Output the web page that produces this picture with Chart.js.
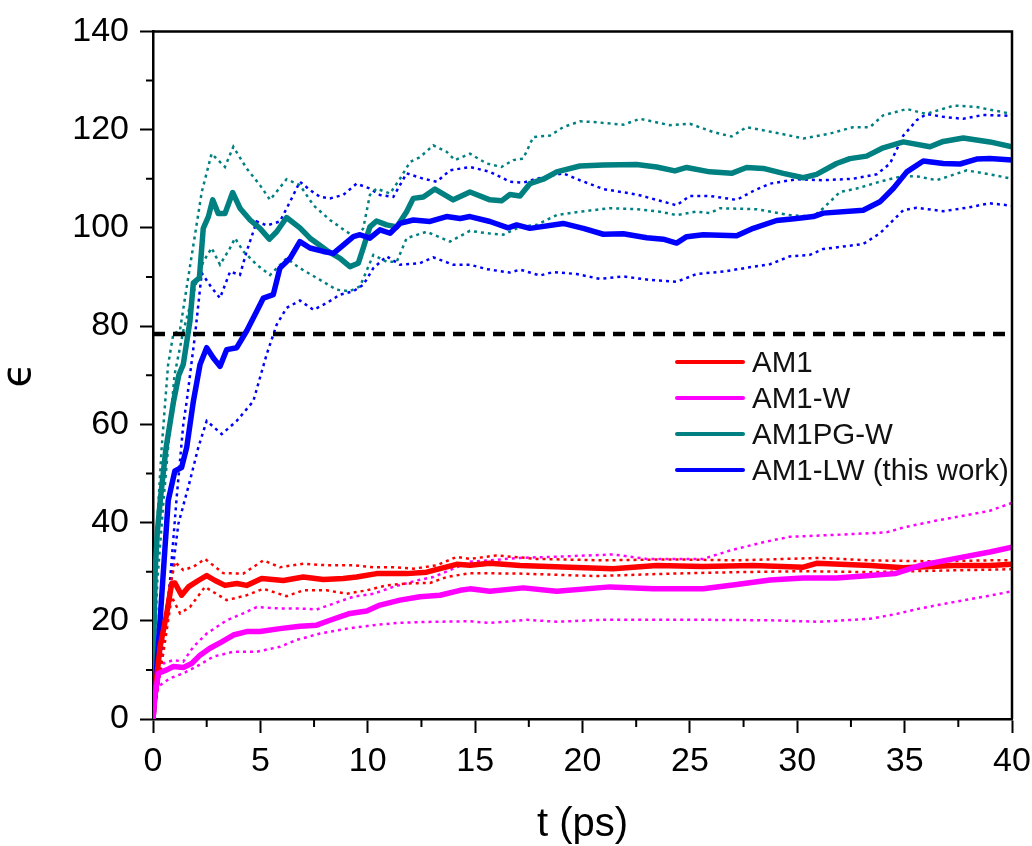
<!DOCTYPE html>
<html>
<head>
<meta charset="utf-8">
<script src="https://cdn.jsdelivr.net/npm/chart.js@4.4.1/dist/chart.umd.min.js"></script>
<style>
  html, body { margin: 0; padding: 0; background: #fff; }
  #wrap { position: relative; width: 1032px; height: 846px; }
  #legend { position: absolute; left: 675px; top: 344px; font-family: 'Liberation Sans', Arial, sans-serif; font-size: 29.5px; color: #111; }
  #legend .row { display: flex; align-items: center; height: 36px; }
  #legend .swatch { width: 70px; height: 4px; border-radius: 2px; margin-right: 7px; }
</style>
</head>
<body>
<div id="wrap">
  <canvas id="epsChart"></canvas>
  <div id="legend"></div>
</div>
<script>
// Axis ticks
const xMinorTicks = [2.5, 7.5, 12.5, 17.5, 22.5, 27.5, 32.5, 37.5];
const yMinorTicks = [10, 30, 50, 70, 90, 110, 130];

// Legend entries (main curves)
const seriesNames = ['AM1', 'AM1-W', 'AM1PG-W', 'AM1-LW (this work)'];
const seriesColors = ['#ff0000', '#ff00ff', '#008080', '#0000ff'];

// Experimental water permittivity
const waterT = [0, 40];
const waterEps = [78.4, 78.4];

// AM1
const am1T = [0, 0.09, 0.33, 0.64, 0.87, 1.02, 1.33, 1.65, 2.11, 2.5, 2.89, 3.35, 3.9, 4.36, 5.06, 6.07, 7.0, 7.93, 8.86, 9.48, 10.41, 11.81, 12.74, 13.36, 14.14, 14.76, 15.69, 17.09, 19.4, 21.43, 23.45, 25.6, 27.95, 30.28, 30.9, 33.4, 34.94, 37.27, 38.97, 40];
const am1Eps = [0, 5.2, 14.7, 21.5, 27.6, 27.7, 25.2, 26.9, 28.2, 29.2, 28.2, 27.2, 27.6, 27.2, 28.6, 28.2, 28.9, 28.4, 28.6, 28.9, 29.6, 29.6, 29.9, 30.6, 31.5, 31.3, 31.7, 31.25, 30.9, 30.6, 31.25, 31.05, 31.25, 30.9, 31.7, 31.25, 30.8, 31.25, 31.25, 31.5];
const am1HiT = [0, 0.5, 1.02, 1.41, 1.88, 2.42, 3.27, 4.2, 5.14, 5.91, 7.0, 8.09, 9.33, 10.26, 11.19, 12.12, 13.21, 14.14, 14.76, 16.0, 17.86, 20.97, 24.07, 27.18, 31.06, 33.4, 36.49, 38.97, 40];
const am1Hi = [0, 20, 32, 30.3, 31, 32.6, 29.7, 29.6, 32.3, 30.9, 31.6, 31.3, 31.3, 30.9, 30.9, 30.6, 31.3, 33.0, 32.6, 33.3, 32.6, 32.3, 32.5, 32.3, 32.8, 32.3, 32.1, 32.3, 32.3];
const am1LoT = [0, 0.5, 0.87, 1.26, 1.72, 2.42, 3.43, 4.36, 5.14, 6.22, 7.0, 8.09, 9.02, 9.95, 10.88, 11.81, 12.9, 13.67, 14.76, 17.09, 20.66, 24.07, 27.18, 30.28, 33.4, 36.49, 38.97, 40];
const am1Lo = [0, 14, 24.9, 21.5, 22.8, 26.9, 24.2, 25.2, 26.5, 25.0, 26.2, 26.2, 25.5, 26.2, 27.2, 27.6, 27.7, 28.9, 29.7, 29.6, 29.1, 29.6, 29.9, 30.1, 29.9, 30.2, 30.4, 30.5];

// AM1-W
const am1wT = [0, 0.09, 0.25, 0.64, 0.95, 1.41, 1.8, 2.19, 2.65, 3.2, 3.74, 4.36, 4.98, 5.91, 6.84, 7.62, 8.24, 9.17, 9.95, 10.57, 11.5, 12.43, 13.36, 14.3, 14.76, 15.69, 17.24, 18.8, 21.28, 23.3, 25.62, 27.18, 28.73, 30.28, 31.83, 33.38, 34.55, 35.71, 37.27, 38.97, 40];
const am1wEps = [0, 4.6, 9.3, 10, 10.7, 10.5, 11.3, 13, 14.4, 15.7, 17.1, 17.8, 17.8, 18.4, 18.9, 19.1, 20.1, 21.5, 22.0, 23.2, 24.2, 24.9, 25.2, 26.2, 26.5, 26.0, 26.7, 26.0, 26.9, 26.5, 26.5, 27.4, 28.3, 28.7, 28.7, 29.2, 29.6, 31.25, 32.6, 34.0, 35.0];
const am1wHiT = [0, 0.2, 0.48, 0.95, 1.41, 1.88, 2.5, 3.43, 4.2, 4.83, 5.91, 6.84, 7.62, 8.4, 9.33, 10.26, 11.19, 12.28, 13.05, 13.98, 14.76, 17.09, 19.1, 21.43, 22.99, 25.62, 26.87, 28.42, 29.66, 31.83, 34.16, 34.94, 36.49, 38.97, 40];
const am1wHi = [0, 8, 11.3, 12, 11.7, 14.7, 17.4, 20.1, 21.5, 22.8, 22.5, 22.5, 22.3, 23.5, 24.9, 25.5, 26.9, 28.2, 28.9, 30.6, 32.0, 32.8, 33.1, 33.5, 32.6, 32.6, 34.3, 36.0, 37.1, 37.5, 38.0, 39.0, 40.4, 42.4, 44.0];
const am1wLoT = [0, 0.25, 0.79, 1.41, 2.03, 2.81, 3.74, 4.83, 5.91, 6.69, 7.78, 9.02, 10.26, 11.5, 13.05, 14.76, 15.69, 17.4, 18.8, 20.97, 25.62, 28.73, 31.06, 33.38, 34.63, 35.71, 37.27, 38.82, 40];
const am1wLo = [0, 6.6, 8.3, 9.3, 10.7, 12.7, 13.7, 13.7, 14.7, 16.1, 17.4, 18.4, 19.1, 19.6, 19.8, 19.9, 19.55, 20.2, 19.8, 20.2, 20.2, 20.1, 19.8, 20.4, 21.4, 22.5, 23.8, 25.0, 26.0];

// AM1PG-W
const am1pgT = [0, 0.1, 0.2, 0.35, 0.6, 0.95, 1.2, 1.41, 1.72, 1.88, 2.16, 2.34, 2.58, 2.78, 3.04, 3.35, 3.71, 4.05, 4.52, 4.98, 5.42, 5.76, 6.22, 6.84, 7.31, 7.78, 8.16, 8.71, 9.17, 9.56, 9.79, 10.1, 10.41, 10.88, 11.35, 11.81, 12.12, 12.59, 13.13, 13.98, 14.76, 15.69, 16.23, 16.62, 17.09, 17.55, 18.17, 18.8, 19.88, 20.97, 22.52, 23.45, 24.3, 24.85, 25.93, 26.94, 27.64, 28.42, 29.35, 30.28, 30.9, 31.83, 32.45, 33.23, 34.0, 34.94, 36.18, 36.8, 37.73, 38.97, 40];
const am1pgEps = [8, 30, 38, 45, 55, 64.5, 70, 72.2, 81, 88.8, 89.8, 99.9, 102.3, 105.7, 102.9, 102.9, 107.2, 104, 101.6, 99.9, 97.7, 99.2, 102.1, 100, 97.9, 96.4, 95.2, 93.8, 92.1, 92.8, 95.9, 100.2, 101.4, 100.6, 100.2, 103.3, 106, 106.3, 107.9, 105.7, 107.3, 105.7, 105.5, 106.8, 106.5, 109, 109.9, 111.4, 112.6, 112.8, 112.9, 112.4, 111.6, 112.3, 111.4, 111.1, 112.3, 112.1, 111.1, 110.2, 110.9, 113.1, 114.1, 114.6, 116.3, 117.5, 116.5, 117.6, 118.3, 117.5, 116.5];
const am1pgHiT = [0, 0.2, 0.4, 0.7, 0.95, 1.25, 1.5, 1.88, 2.27, 2.73, 3.35, 3.74, 4.36, 4.98, 5.45, 6.22, 6.84, 7.47, 8.24, 9.02, 9.48, 9.79, 10.1, 10.41, 11.04, 11.5, 11.97, 12.43, 13.05, 13.67, 14.06, 14.76, 15.54, 16.23, 16.78, 17.24, 17.71, 18.49, 19.1, 19.88, 20.66, 21.9, 22.68, 24.07, 25.0, 26.09, 26.94, 27.64, 29.2, 30.28, 31.52, 32.6, 33.38, 34.0, 35.1, 36.0, 37.3, 38.35, 40];
const am1pgHi = [12, 40, 55, 72, 78.5, 79, 86, 96.5, 107.3, 115.1, 112.4, 116.5, 112.1, 108.7, 105.7, 109.9, 108.7, 104.6, 101.6, 99.2, 97.9, 99.9, 106.7, 108.0, 107.0, 110.0, 113.4, 114.4, 116.8, 115.5, 113.8, 115.1, 113.1, 112.4, 113.8, 114.1, 118.5, 118.8, 120.5, 121.7, 121.5, 121.0, 122.2, 120.9, 121.2, 119.5, 118.6, 120.5, 119.2, 118.2, 119.2, 120.5, 120.5, 122.9, 124.2, 123.2, 124.9, 124.6, 123.2];
const am1pgLoT = [0, 0.2, 0.5, 0.8, 1.0, 1.41, 2.03, 2.34, 2.73, 3.12, 3.59, 3.82, 4.21, 4.83, 5.45, 6.22, 6.84, 7.78, 8.55, 9.17, 9.64, 10.26, 10.88, 11.35, 11.81, 12.74, 13.83, 14.76, 15.54, 16.31, 17.09, 17.86, 18.8, 19.88, 21.28, 22.52, 23.6, 24.38, 25.31, 25.93, 26.4, 28.1, 29.66, 30.75, 31.21, 31.99, 32.76, 33.85, 34.94, 35.7, 36.49, 37.89, 38.97, 40];
const am1pgLo = [5, 28, 45, 60, 70, 79, 89.1, 93.1, 95.9, 92.5, 95.9, 97.9, 95.2, 92.5, 90.4, 93.8, 91.8, 89.4, 87.4, 87.1, 88.1, 94.5, 93.1, 93.1, 97.9, 99.2, 97.2, 99.4, 98.9, 98.6, 100.2, 100.6, 102.6, 103.3, 104.0, 103.8, 103.3, 102.6, 103.3, 103.0, 104.0, 103.8, 102.6, 102.3, 104.0, 107.3, 108.0, 109.4, 110.6, 110.4, 109.7, 111.7, 110.9, 110.0];

// AM1-LW (this work)
const am1lwT = [0, 0.33, 0.56, 0.71, 1.02, 1.33, 1.57, 1.88, 2.19, 2.5, 2.81, 3.12, 3.43, 3.9, 4.36, 4.83, 5.14, 5.6, 5.91, 6.38, 6.84, 7.31, 7.93, 8.4, 8.86, 9.33, 9.64, 10.1, 10.57, 11.04, 11.5, 12.12, 12.9, 13.67, 14.3, 14.76, 15.69, 16.54, 16.93, 17.55, 19.1, 20.04, 20.97, 21.9, 22.99, 23.76, 24.38, 24.85, 25.62, 27.18, 27.95, 29.04, 29.97, 30.75, 31.21, 33.07, 33.85, 34.47, 35.1, 35.87, 36.8, 37.58, 38.35, 38.97, 40];
const am1lwEps = [0, 20.1, 35, 44.5, 50.5, 51.2, 55.3, 64.7, 72.2, 75.6, 73.5, 71.8, 75.2, 75.6, 79.0, 83.0, 85.7, 86.4, 91.8, 93.8, 97.2, 95.9, 95.2, 94.8, 96.5, 98.2, 98.6, 97.9, 99.6, 98.9, 100.9, 101.6, 101.3, 102.3, 101.9, 102.3, 101.3, 100.0, 100.6, 99.9, 100.9, 99.9, 98.7, 98.8, 98.0, 97.7, 96.9, 98.2, 98.6, 98.4, 99.9, 101.5, 101.9, 102.3, 103.0, 103.6, 105.3, 108.0, 111.4, 113.6, 113.1, 113.0, 114.0, 114.1, 113.8];
const am1lwHiT = [0, 0.4, 0.79, 1.1, 1.41, 1.57, 1.96, 2.27, 2.7, 3.12, 3.59, 4.05, 4.36, 4.83, 5.3, 5.91, 6.38, 6.84, 7.31, 7.78, 8.24, 8.86, 9.48, 10.1, 10.57, 11.19, 11.81, 12.59, 13.21, 13.83, 14.76, 15.69, 16.62, 17.24, 17.86, 19.1, 19.88, 20.97, 22.52, 23.45, 24.38, 25.0, 25.93, 27.18, 27.95, 28.73, 29.97, 31.21, 32.6, 33.7, 34.32, 34.94, 35.56, 36.03, 36.8, 37.73, 38.66, 40];
const am1lwHi = [0, 12, 28, 45, 60, 64.7, 78.3, 90.8, 88, 85.7, 91.1, 90.4, 95.2, 101.3, 100.5, 101.3, 105.3, 109.4, 107.7, 106.3, 106.0, 106.7, 109.0, 108.0, 106.7, 106.3, 111.1, 110.0, 109.4, 111.7, 112.4, 111.4, 109.4, 109.2, 110.0, 111.1, 109.7, 107.9, 106.8, 105.7, 104.6, 106.5, 106.5, 105.7, 107.5, 109.0, 109.9, 109.7, 110.0, 110.9, 113.1, 118.8, 121.9, 123.2, 122.6, 122.2, 123.0, 122.8];
const am1lwLoT = [0, 0.5, 0.95, 1.18, 1.72, 2.11, 2.5, 3.2, 3.9, 4.67, 5.29, 5.76, 6.22, 6.84, 7.47, 8.09, 8.71, 9.33, 9.79, 10.26, 10.88, 11.5, 12.43, 13.05, 13.98, 14.76, 15.54, 16.62, 17.09, 18.02, 18.64, 19.73, 20.81, 21.9, 23.14, 24.38, 25.31, 26.56, 27.95, 28.73, 29.66, 30.59, 31.21, 33.07, 33.85, 34.94, 35.56, 36.8, 37.89, 38.97, 40];
const am1lwLo = [0, 18, 31.6, 39.7, 48.5, 55.3, 60.7, 58, 60.7, 64.7, 74.2, 80.3, 83.7, 85.2, 83.3, 84.7, 86.4, 87.1, 88.4, 91.8, 94.2, 92.5, 92.8, 94.0, 92.5, 92.5, 91.6, 90.9, 91.5, 90.3, 91.0, 90.6, 89.6, 90.1, 89.4, 89.0, 90.6, 91.1, 92.1, 92.6, 94.2, 94.5, 95.7, 96.7, 98.9, 103.6, 104.1, 103.4, 104.1, 105.0, 104.5];

const pts = (ts, vs) => ts.map((t, i) => ({ x: t, y: vs[i] }));

function mainLine(label, ts, vs, color) {
  return {
    label: label,
    data: pts(ts, vs),
    borderColor: color,
    borderWidth: 5.5,
    borderJoinStyle: 'round',
    borderCapStyle: 'round'
  };
}

function dottedLine(ts, vs, color) {
  return {
    label: '',
    data: pts(ts, vs),
    borderColor: color,
    borderWidth: 2.5,
    borderDash: [3, 4]
  };
}

// Minor ticks and the top/right frame
const frameAndMinorTicks = {
  id: 'frameAndMinorTicks',
  afterDraw(chart) {
    const { ctx, chartArea: a, scales: { x, y } } = chart;
    ctx.save();
    ctx.strokeStyle = '#000';
    ctx.lineWidth = 2.5;
    ctx.beginPath();
    ctx.moveTo(a.left, a.top);
    ctx.lineTo(a.right, a.top);
    ctx.lineTo(a.right, a.bottom);
    ctx.stroke();
    ctx.lineWidth = 2;
    ctx.beginPath();
    xMinorTicks.forEach(v => {
      const px = x.getPixelForValue(v);
      ctx.moveTo(px, a.bottom);
      ctx.lineTo(px, a.bottom + 8);
    });
    yMinorTicks.forEach(v => {
      const py = y.getPixelForValue(v);
      ctx.moveTo(a.left, py);
      ctx.lineTo(a.left - 7, py);
    });
    ctx.stroke();
    ctx.restore();
  }
};

document.addEventListener('DOMContentLoaded', function() {
  const ctx = document.getElementById('epsChart').getContext('2d');
  const chart = new Chart(ctx, {
    type: 'line',
    data: {
      datasets: [
        mainLine(seriesNames[1], am1wT, am1wEps, seriesColors[1]),
        mainLine(seriesNames[0], am1T, am1Eps, seriesColors[0]),
        mainLine(seriesNames[3], am1lwT, am1lwEps, seriesColors[3]),
        mainLine(seriesNames[2], am1pgT, am1pgEps, seriesColors[2]),
        {
          label: 'water',
          data: pts(waterT, waterEps),
          borderColor: '#000',
          borderWidth: 4.5,
          borderDash: [12, 8]
        },
        dottedLine(am1HiT, am1Hi, seriesColors[0]),
        dottedLine(am1LoT, am1Lo, seriesColors[0]),
        dottedLine(am1wHiT, am1wHi, seriesColors[1]),
        dottedLine(am1wLoT, am1wLo, seriesColors[1]),
        dottedLine(am1pgHiT, am1pgHi, seriesColors[2]),
        dottedLine(am1pgLoT, am1pgLo, seriesColors[2]),
        dottedLine(am1lwHiT, am1lwHi, seriesColors[3]),
        dottedLine(am1lwLoT, am1lwLo, seriesColors[3])
      ]
    },
    options: {
      responsive: true,
      maintainAspectRatio: false,
      animation: false,
      elements: {
        point: { radius: 0, hoverRadius: 0 },
        line: { tension: 0, fill: false }
      },
      layout: { padding: { top: 29, right: 20, left: 0, bottom: 0 } },
      plugins: {
        legend: { display: false },
        tooltip: { enabled: false }
      },
      scales: {
        x: {
          type: 'linear',
          min: 0,
          max: 40,
          afterFit: scale => {
            scale.height = 127;
            scale.paddingLeft = 0;
            scale.paddingRight = 0;
          },
          ticks: {
            stepSize: 5,
            padding: 8,
            color: '#000',
            font: { family: "'Liberation Sans Narrow', 'Liberation Sans', Arial, sans-serif", size: 34 }
          },
          grid: { drawOnChartArea: false, tickLength: 14, tickWidth: 2, tickColor: '#000' },
          border: { color: '#000', width: 2.5 },
          title: {
            display: true,
            text: 't (ps)',
            color: '#000',
            padding: { top: 0, bottom: 1 },
            font: { family: "'Liberation Sans', Arial, sans-serif", size: 40, lineHeight: 1 }
          }
        },
        y: {
          type: 'linear',
          min: 0,
          max: 140,
          afterFit: scale => { scale.width = 153; },
          ticks: {
            stepSize: 20,
            padding: 11,
            color: '#000',
            font: { family: "'Liberation Sans', Arial, sans-serif", size: 34 }
          },
          grid: { drawOnChartArea: false, tickLength: 13, tickWidth: 2, tickColor: '#000' },
          border: { color: '#000', width: 2.5 },
          title: {
            display: true,
            text: 'ϵ',
            color: '#000',
            padding: 0,
            font: { family: "'DejaVu Sans', sans-serif", size: 40, lineHeight: 1 }
          }
        }
      }
    },
    plugins: [frameAndMinorTicks]
  });

  // HTML legend for the four main curves
  const legendEl = document.getElementById('legend');
  seriesNames.forEach((name, i) => {
    const row = document.createElement('div');
    row.className = 'row';
    const sw = document.createElement('span');
    sw.className = 'swatch';
    sw.style.background = seriesColors[i];
    const txt = document.createElement('span');
    txt.textContent = name;
    row.appendChild(sw);
    row.appendChild(txt);
    legendEl.appendChild(row);
  });
});
</script>
</body>
</html>
